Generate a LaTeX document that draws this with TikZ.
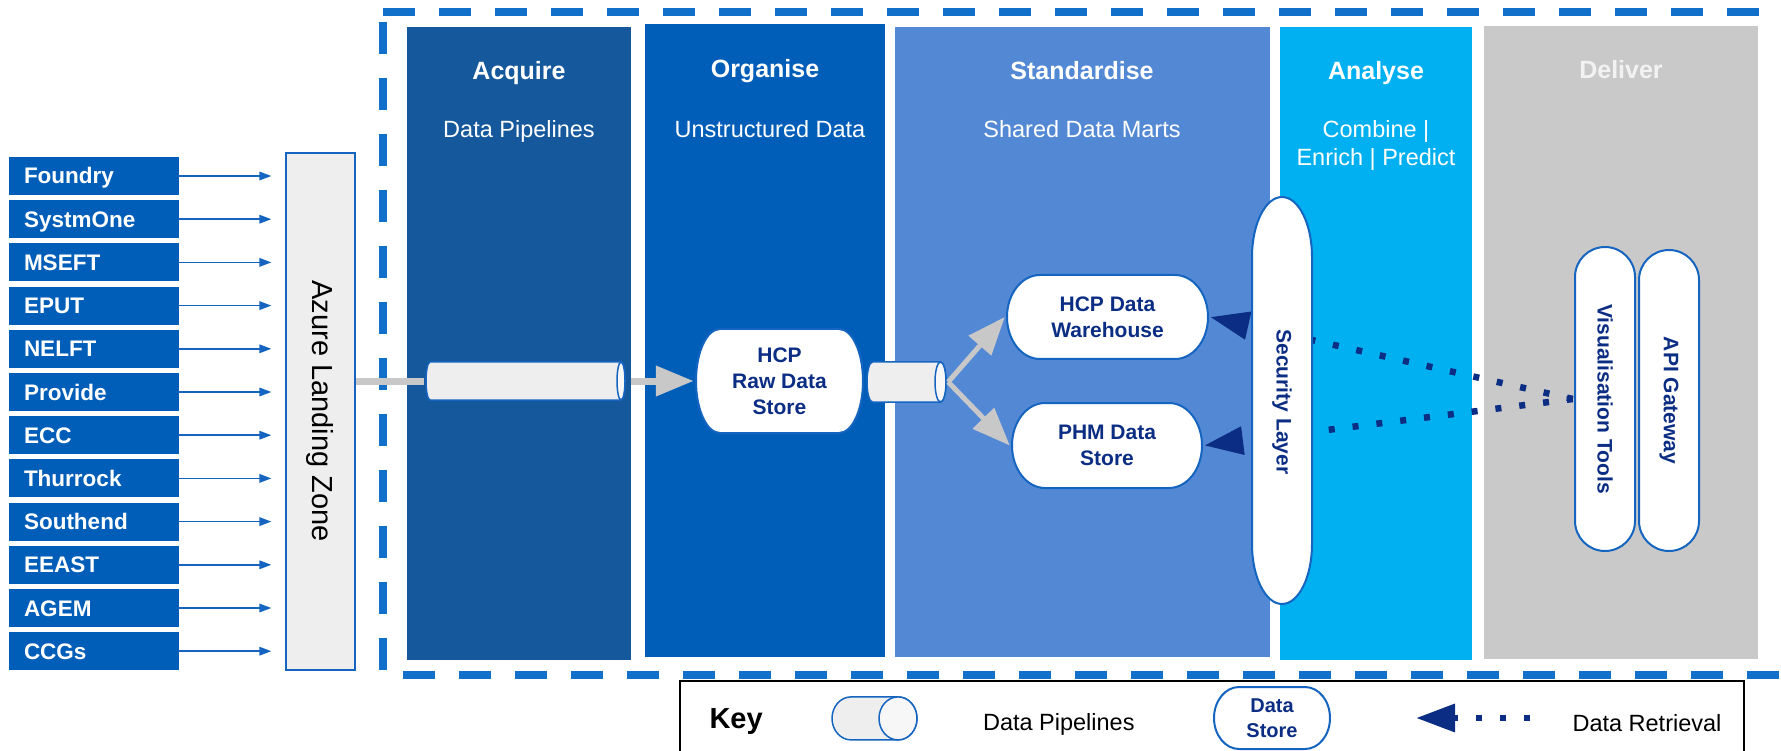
\documentclass[tikz,border=0pt]{standalone}
\usepackage{fontspec}
\setmainfont{Liberation Sans}
\usetikzlibrary{arrows.meta,positioning,calc}

\definecolor{srcblue}{HTML}{005EB8}
\definecolor{acqblue}{HTML}{15589C}
\definecolor{orgblue}{HTML}{005EB8}
\definecolor{stdblue}{HTML}{5389D4}
\definecolor{anacyan}{HTML}{00B0F0}
\definecolor{delgrey}{HTML}{C9C9C9}
\definecolor{pipegrey}{HTML}{EEEEEE}
\definecolor{flowgrey}{HTML}{C8C8C8}
\definecolor{navy}{HTML}{0B2D83}
\definecolor{lineblue}{HTML}{1565C0}
\definecolor{dashblue}{HTML}{1170C9}

\begin{document}
\begin{tikzpicture}[x=1pt,y=-1pt]
    \tikzset{
      panel/.style={fill=#1, inner sep=0, minimum height=633pt},
      title/.style={anchor=base, text=white, font=\fontsize{25}{30}\selectfont\bfseries},
      sub/.style={anchor=base, text=white, align=center, font=\fontsize{23.5}{28}\selectfont},
      src/.style={fill=srcblue, text=white, inner xsep=15pt, inner ysep=0, text width=140pt,
        minimum height=38pt, text height=21pt, text depth=5pt, font=\fontsize{22.5}{27}\selectfont\bfseries},
      feed/.style={draw=lineblue, line width=1.6pt, -{Triangle[length=12pt,width=8.5pt]}, shorten >=13.5pt},
      pipeline/.style={draw=lineblue, line width=1.5pt, fill=pipegrey},
      pipe/.style 2 args={inner sep=0,
        path picture={\draw[pipeline] ([shift={(#1+2pt,-2pt)}]path picture bounding box.north west)
          arc[start angle=90, end angle=270, x radius=#1, y radius=#2]
          -- ([shift={(-#1-2pt,2pt)}]path picture bounding box.south east)
          arc[start angle=-90, end angle=90, x radius=#1, y radius=#2] -- cycle;
          \draw[pipeline, fill=white!55!pipegrey] ([xshift=-#1-2pt]path picture bounding box.east)
          ellipse[x radius=#1, y radius=#2];}},
      flow/.style={draw=flowgrey, line width=7pt, -{Triangle[length=38pt,width=29pt]}},
      storeline/.style={draw=lineblue, line width=2pt, fill=white},
      hstore/.style 2 args={inner sep=0, text=navy, align=center, font=\fontsize{21}{26}\selectfont\bfseries,
        path picture={\draw[storeline] ([shift={(#1+2pt,-2pt)}]path picture bounding box.north west)
          arc[start angle=90, end angle=270, x radius=#1, y radius=#2]
          -- ([shift={(-#1-2pt,2pt)}]path picture bounding box.south east)
          arc[start angle=-90, end angle=90, x radius=#1, y radius=#2] -- cycle;}},
      vstore/.style 2 args={inner sep=0,
        path picture={\draw[storeline] ([shift={(2pt,-#2-2pt)}]path picture bounding box.north west)
          arc[start angle=180, end angle=0, x radius=#1, y radius=#2]
          -- ([shift={(-2pt,#2+2pt)}]path picture bounding box.south east)
          arc[start angle=0, end angle=-180, x radius=#1, y radius=#2] -- cycle;}},
      vtext/.style={rotate=-90, text=navy, font=\fontsize{21}{26}\selectfont\bfseries},
      fetch/.style={draw=navy, line width=6.5pt, dash pattern=on 6pt off 18pt,
        -{Triangle[length=39pt,width=27pt]}},
      border/.style={draw=dashblue, line width=8pt, dash pattern=on 32pt off 24pt},
      keytext/.style={anchor=base west, font=\fontsize{23.5}{28}\selectfont}
    }
    \useasboundingbox (0,0) rectangle (1781,751);

    % platform frame
    \draw[border] (383,12) -- (1781,12) (383,22) -- (383,670) (403,675) -- (1781,675);

    % stages
    \node[panel=acqblue, minimum width=224pt] (acq) at (519,343.5) {};
    \node[panel=orgblue, minimum width=240pt] (org) at (765,340.5) {};
    \node[panel=stdblue, minimum width=375pt, minimum height=630pt] (std) at (1082,342) {};
    \node[panel=anacyan, minimum width=192pt] (ana) at (1376,343.5) {};
    \node[panel=delgrey, minimum width=274pt] (del) at (1621,342.5) {};

    \node[title] (acqt) at (519,80) {Acquire};
    \node[title] (orgt) at (765,78) {Organise};
    \node[title] (stdt) at (1082,80) {Standardise};
    \node[title] (anat) at (1376,80) {Analyse};
    \node[title, text=white!95!black] (delt) at (1621,79) {Deliver};

    \node[sub] (acqs) at (519,137.5) {Data Pipelines};
    \node[sub] (orgs) at (770,138) {Unstructured Data};
    \node[sub] (stds) at (1082,137.5) {Shared Data Marts};
    \node[sub] (anas) at (1376,165.7) {Combine |\\Enrich | Predict};

    % sources
    \node[draw=lineblue, line width=2pt, fill=pipegrey, minimum width=69pt, minimum height=517pt,
      inner sep=0] (azure) at (320.4,411.2) {};
    \node[rotate=-90, font=\fontsize{29}{34}\selectfont] (azuret) at (azure) {Azure Landing Zone};
    \foreach \srcname [count=\i] in {Foundry,SystmOne,MSEFT,EPUT,NELFT,Provide,ECC,Thurrock,Southend,EEAST,AGEM,CCGs} {
      \node[src] (s\i) at (94,{176+43.2*(\i-1)}) {\srcname};
      \draw[feed] (s\i.east) -- (s\i.east -| azure.west);
    }

    % pipelines and stores
    \node[pipe={4pt}{19pt}, minimum width=203pt, minimum height=42pt] (p1) at (525.5,381) {};
    \node[hstore={24pt}{52pt}, minimum width=171pt, minimum height=108pt] (raw) at (779.5,381) {HCP\\Raw Data\\Store};
    \node[pipe={5.5pt}{20pt}, minimum width=83pt, minimum height=44pt] (p2) at (906.5,382) {};
    \node[hstore={33pt}{42pt}, minimum width=205pt, minimum height=88pt] (wh) at (1107.5,317) {HCP Data\\Warehouse};
    \node[hstore={33pt}{42.5pt}, minimum width=194pt, minimum height=89pt] (phm) at (1107,445.5) {PHM Data\\Store};

    \draw[flowgrey, line width=7pt] (azure.east |- p1.west) -- (p1.west);
    \draw[flow, shorten <=4pt] (p1.east) -- (raw.west);
    \draw[flow, line width=5pt] (p2.east) -- (wh.west);
    \draw[flow, line width=5pt] (p2.east) -- (phm.west);

    % delivery and retrieval
    \node[vstore={30pt}{30pt}, minimum width=64pt, minimum height=308pt] (vis) at (1605,399) {};
    \node[vtext] (vist) at (vis) {Visualisation Tools};
    \node[vstore={30pt}{30pt}, minimum width=64pt, minimum height=305pt] (api) at (1669,400.5) {};
    \node[vtext] (apit) at (api) {API Gateway};

    \draw[fetch] (vis.west) -- (wh.east);
    \draw[fetch] (vis.west) -- (phm.east);

    \node[vstore={30pt}{60pt}, minimum width=64pt, minimum height=411pt] (sec) at (1282,400.5) {};
    \node[vtext] (sect) at (1282,402) {Security Layer};

    % key
    \draw[black, line width=2pt] (680,770) |- (1744,681) -- (1744,770);
    \node[anchor=base west, font=\fontsize{29}{34}\selectfont\bfseries] (key) at (706,728) {Key};
    \node[pipe={19pt}{21.5pt}, minimum width=89pt, minimum height=47pt] (kpipe) at (874.5,718.4) {};
    \node[keytext] (kpipet) at (979.5,730) {Data Pipelines};
    \node[hstore={25pt}{31pt}, minimum width=120pt, minimum height=66pt,
      font=\fontsize{20}{25.5}\selectfont\bfseries] (kstore) at (1272,718) {Data\\Store};
    \coordinate (ktail) at (1530,718);
    \coordinate (ktip) at (1416,718);
    \draw[fetch] (ktail) -- (ktip);
    \node[keytext] (kfetcht) at (1569,731) {Data Retrieval};
\end{tikzpicture}
\end{document}
